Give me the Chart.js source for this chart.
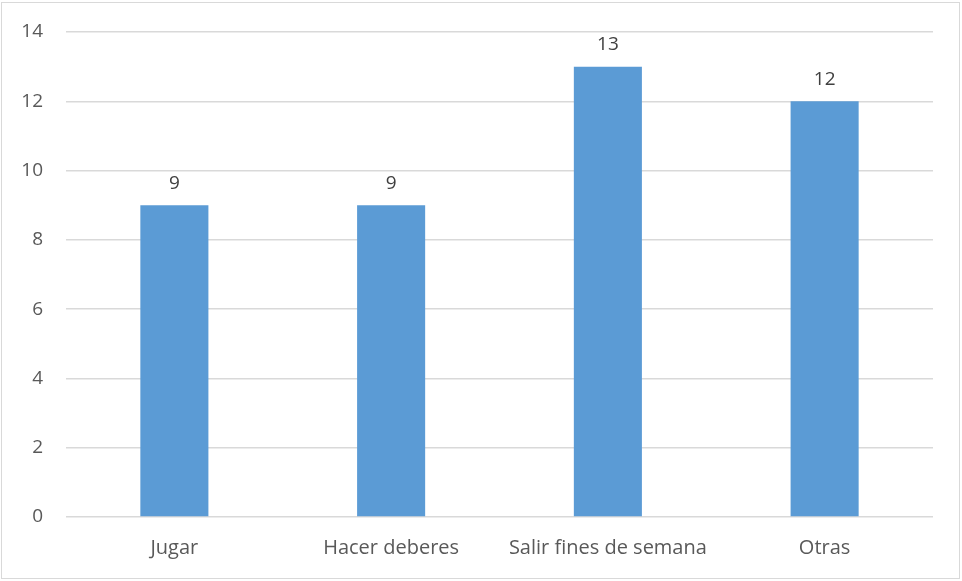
<!DOCTYPE html>
<html>
<head>
<meta charset="utf-8">
<script src="https://cdn.jsdelivr.net/npm/chart.js@4/dist/chart.umd.min.js"></script>
<style>
  html, body { margin: 0; padding: 0; background: #fff; }
  #wrap { position: relative; width: 962px; height: 581px; }
  #frame { position: absolute; left: 1px; top: 2px; width: 957px; height: 575px; border: 1px solid #d9d9d9; pointer-events: none; }
</style>
</head>
<body>
<div id="wrap">
  <canvas id="barChart" width="962" height="581"></canvas>
  <div id="frame"></div>
</div>
<script>
// categories and values
const categories = ['Jugar', 'Hacer deberes', 'Salir fines de semana', 'Otras'];
const values = [9, 9, 13, 12];
const yTicks = [0, 2, 4, 6, 8, 10, 12, 14];

const fontFamily = "'Open Sans', 'Noto Sans', sans-serif";

// draws the number above each bar
const valueLabels = {
  id: 'valueLabels',
  afterDatasetsDraw(chart) {
    const ctx = chart.ctx;
    const meta = chart.getDatasetMeta(0);
    ctx.save();
    ctx.font = '19px ' + fontFamily;
    ctx.fillStyle = '#404040';
    ctx.textAlign = 'center';
    ctx.textBaseline = 'middle';
    meta.data.forEach((bar, i) => {
      ctx.fillText(String(values[i]), bar.x, bar.y - 22);
    });
    ctx.restore();
  }
};

document.addEventListener('DOMContentLoaded', function () {
  const ctx = document.getElementById('barChart').getContext('2d');
  new Chart(ctx, {
    type: 'bar',
    data: {
      labels: categories,
      datasets: [{
        data: values,
        backgroundColor: '#5b9bd5',
        borderWidth: 0,
        categoryPercentage: 1,
        barPercentage: 0.314
      }]
    },
    options: {
      responsive: false,
      animation: false,
      layout: { padding: { top: 32, right: 29, bottom: 0, left: 0 } },
      plugins: { legend: { display: false }, tooltip: { enabled: false } },
      scales: {
        x: {
          grid: { display: false, drawTicks: false },
          border: { display: false },
          ticks: { color: '#595959', font: { family: fontFamily, size: 20 }, padding: 19, maxRotation: 0 },
          afterFit: function (scale) { scale.height = 64; }
        },
        y: {
          min: 0,
          max: 14,
          afterBuildTicks: function (scale) { scale.ticks = yTicks.map(v => ({ value: v })); },
          grid: { color: '#d9d9d9', lineWidth: 1.5, drawTicks: false },
          border: { display: false },
          ticks: { color: '#595959', font: { family: fontFamily, size: 19 }, padding: 23 },
          afterFit: function (scale) {
            scale.width = 66;
            scale.paddingTop = 0;
            scale.paddingBottom = 0;
          }
        }
      }
    },
    plugins: [valueLabels]
  });
});
</script>
</body>
</html>
